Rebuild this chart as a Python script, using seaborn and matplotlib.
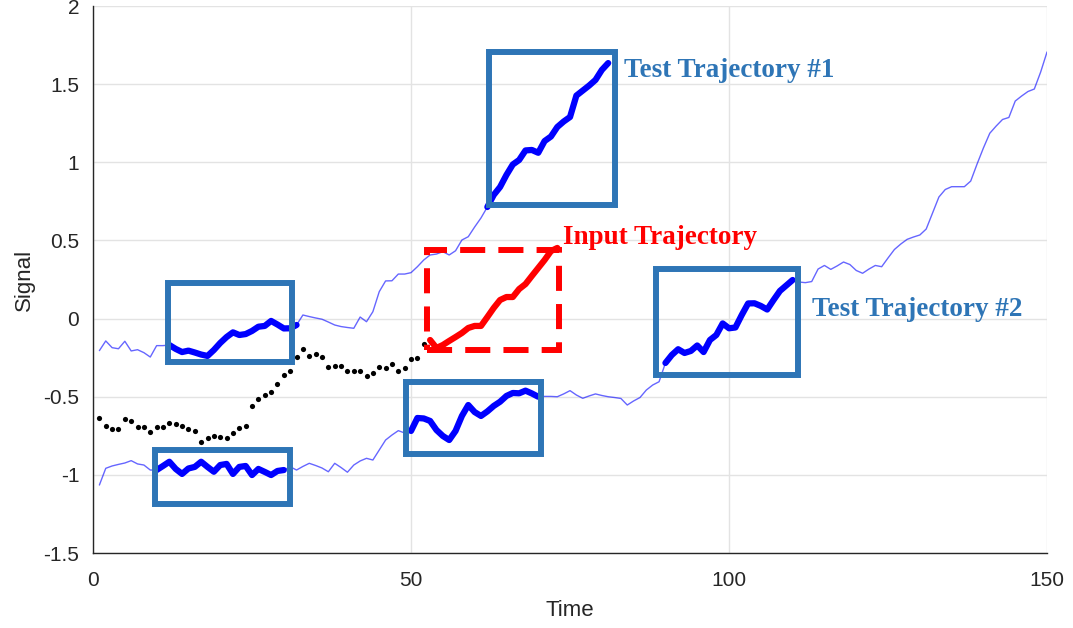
import numpy as np
import pandas as pd
import seaborn as sns
import matplotlib.pyplot as plt
from matplotlib.patches import Rectangle

# signal that climbs early (test trajectory #1 lives on it), time 1..81
upper_sig = [-0.205, -0.143, -0.186, -0.193, -0.145, -0.207, -0.199, -0.218, -0.246, -0.173,
             -0.173, -0.169, -0.194, -0.214, -0.205, -0.217, -0.230, -0.239, -0.201, -0.156,
             -0.118, -0.088, -0.105, -0.099, -0.079, -0.052, -0.047, -0.015, -0.038, -0.063,
             -0.062, -0.041, 0.023, 0.013, 0.004, -0.004, -0.022, -0.041, -0.051, -0.057,
             -0.062, 0.010, -0.020, 0.044, 0.172, 0.241, 0.242, 0.285, 0.285, 0.294,
             0.332, 0.375, 0.407, 0.413, 0.428, 0.407, 0.434, 0.503, 0.524, 0.586,
             0.644, 0.714, 0.791, 0.842, 0.919, 0.986, 1.015, 1.076, 1.079, 1.061,
             1.136, 1.165, 1.226, 1.261, 1.290, 1.427, 1.459, 1.491, 1.527, 1.591,
             1.635]

# slower signal (test trajectory #2), time 1..150
lower_sig = [-1.065, -0.958, -0.943, -0.933, -0.924, -0.909, -0.930, -0.937, -0.969, -0.969,
             -0.943, -0.916, -0.962, -0.994, -0.959, -0.949, -0.916, -0.949, -0.980, -0.937,
             -0.930, -0.994, -0.949, -0.943, -1.001, -0.962, -0.981, -1.001, -0.975, -0.969,
             -0.948, -0.969, -0.946, -0.926, -0.940, -0.956, -0.980, -0.926, -0.953, -0.983,
             -0.937, -0.911, -0.894, -0.905, -0.841, -0.777, -0.745, -0.717, -0.732, -0.719,
             -0.636, -0.639, -0.655, -0.713, -0.751, -0.777, -0.719, -0.623, -0.553, -0.598,
             -0.623, -0.594, -0.559, -0.532, -0.495, -0.476, -0.478, -0.461, -0.479, -0.500,
             -0.498, -0.498, -0.500, -0.482, -0.461, -0.489, -0.510, -0.495, -0.482, -0.492,
             -0.500, -0.505, -0.511, -0.553, -0.527, -0.505, -0.457, -0.425, -0.404, -0.284,
             -0.233, -0.196, -0.220, -0.207, -0.172, -0.214, -0.137, -0.105, -0.031, -0.062,
             -0.057, 0.023, 0.097, 0.098, 0.081, 0.058, 0.119, 0.177, 0.212, 0.247,
             0.234, 0.230, 0.237, 0.317, 0.340, 0.315, 0.337, 0.362, 0.346, 0.308,
             0.290, 0.317, 0.340, 0.332, 0.388, 0.442, 0.477, 0.507, 0.522, 0.535,
             0.573, 0.676, 0.778, 0.826, 0.844, 0.844, 0.844, 0.880, 0.989, 1.092,
             1.186, 1.232, 1.274, 1.287, 1.392, 1.424, 1.453, 1.469, 1.578, 1.706]

# observed history (dots), time 1..52
history = [-0.634, -0.687, -0.706, -0.704, -0.642, -0.653, -0.694, -0.695, -0.726, -0.695,
           -0.694, -0.666, -0.674, -0.685, -0.708, -0.721, -0.790, -0.762, -0.751, -0.759,
           -0.764, -0.734, -0.700, -0.687, -0.557, -0.512, -0.491, -0.472, -0.417, -0.363,
           -0.337, -0.244, -0.194, -0.237, -0.226, -0.248, -0.310, -0.301, -0.303, -0.337,
           -0.335, -0.335, -0.367, -0.348, -0.308, -0.318, -0.292, -0.333, -0.318, -0.260,
           -0.252, -0.163]

# input trajectory, time 53..73
input_traj = [-0.137, -0.188, -0.169, -0.143, -0.118, -0.092, -0.060, -0.047, -0.047, 0.010,
              0.068, 0.119, 0.138, 0.138, 0.189, 0.221, 0.273, 0.324, 0.375, 0.432,
              0.452]
input_start = 53

# highlighted windows (start, end time) on each signal
upper_windows = [(12, 32), (62, 81)]
lower_windows = [(10, 30), (50, 70), (90, 110)]

# boxes drawn round the windows: (t0, t1, y0, y1)
blue_boxes = [(11.8, 31.3, -0.278, 0.228), (9.8, 31.0, -1.189, -0.844),
              (49.2, 70.5, -0.867, -0.407), (62.2, 82.1, 0.727, 1.708),
              (88.5, 110.9, -0.361, 0.319)]
red_box = (52.5, 73.3, -0.201, 0.436)

labels = ["Test Trajectory #1", "Input Trajectory", "Test Trajectory #2"]
label_pos = [(83.5, 1.585), (73.9, 0.52), (113.0, 0.06)]
label_col = ["#2E75B6", "#FF0000", "#2E75B6"]

xticks = [0, 50, 100, 150]
yticks = [-1.5, -1, -0.5, 0, 0.5, 1, 1.5, 2]
ytick_labels = ["-1.5", "-1", "-0.5", "0", "0.5", "1", "1.5", "2"]

sns.set_style("whitegrid")
plt.rcParams['font.family'] = ['Liberation Sans', 'DejaVu Sans']
plt.rcParams['axes.unicode_minus'] = False

up = pd.DataFrame({"t": np.arange(1, len(upper_sig) + 1), "v": upper_sig})
lo = pd.DataFrame({"t": np.arange(1, len(lower_sig) + 1), "v": lower_sig})
hist = pd.DataFrame({"t": np.arange(1, len(history) + 1), "v": history})
inp = pd.DataFrame({"t": np.arange(input_start, input_start + len(input_traj)), "v": input_traj})

fig = plt.figure(figsize=(10.73, 6.28), dpi=100)
ax = fig.add_axes([0.0867, 0.1194, 0.8891, 0.871])

blue = "#0000FF"
for df in (up, lo):
    sns.lineplot(data=df, x="t", y="v", color=blue, lw=1.0, alpha=0.6,
                 estimator=None, ax=ax)

for df, wins in ((up, upper_windows), (lo, lower_windows)):
    for a, b in wins:
        seg = df[(df.t >= a) & (df.t <= b)]
        sns.lineplot(data=seg, x="t", y="v", color=blue, lw=4.5, estimator=None,
                     solid_capstyle="round", solid_joinstyle="round", ax=ax)

sns.scatterplot(data=hist, x="t", y="v", color="black", s=14, linewidth=0, ax=ax)
sns.lineplot(data=inp, x="t", y="v", color="#FF0000", lw=4.5, estimator=None,
             solid_capstyle="round", solid_joinstyle="round", ax=ax)

for x0, x1, y0, y1 in blue_boxes:
    ax.add_patch(Rectangle((x0, y0), x1 - x0, y1 - y0, fill=False,
                           ec="#2E75B6", lw=4.3, zorder=5))
x0, x1, y0, y1 = red_box
ax.add_patch(Rectangle((x0, y0), x1 - x0, y1 - y0, fill=False, ec="#FF0000",
                       lw=4.3, ls=(0, (4.2, 2.2)), zorder=5))

for txt, (tx, ty), c in zip(labels, label_pos, label_col):
    ax.text(tx, ty, txt, color=c, fontsize=19.5, fontweight="bold",
            family=["Liberation Serif", "DejaVu Serif"], va="center", ha="left")

ax.set_xlim(0, 150)
ax.set_ylim(-1.5, 2)
ax.set_xticks(xticks)
ax.set_xticklabels([str(v) for v in xticks])
ax.set_yticks(yticks)
ax.set_yticklabels(ytick_labels)
ax.grid(True, color="#e3e3e3", lw=1.0)
for s in ("top", "right"):
    ax.spines[s].set_visible(False)
for s in ("left", "bottom"):
    ax.spines[s].set_color("#262626")
    ax.spines[s].set_linewidth(1.0)
ax.tick_params(direction="in", length=5, width=0.8, color="#262626",
               labelcolor="#262626", labelsize=15)
ax.tick_params(axis="x", pad=13)
ax.tick_params(axis="y", pad=10)
ax.set_xlabel("Time", fontsize=16, color="#262626", labelpad=7)
ax.set_ylabel("Signal", fontsize=16, color="#262626", labelpad=6)

fig.savefig("out.png", dpi=100)
